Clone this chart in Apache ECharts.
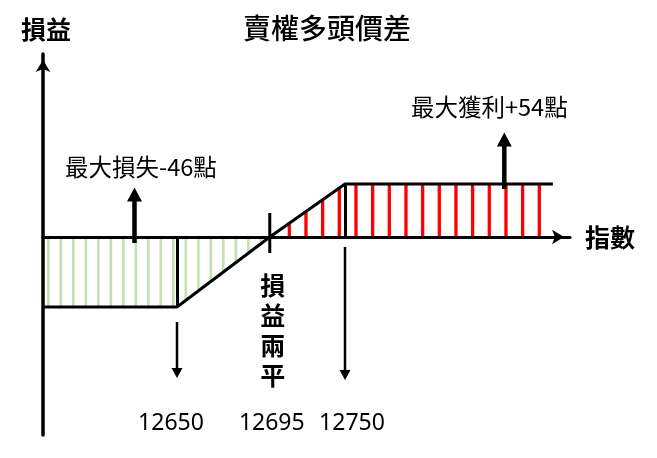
<!DOCTYPE html>
<html><head><meta charset="utf-8">
<script src="https://cdn.jsdelivr.net/npm/echarts@6/dist/echarts.min.js"></script>
<style>html,body{margin:0;padding:0;background:#fff}#c{width:657px;height:458px}</style>
</head><body><div id="c"></div>
<script>
// ---------- data ----------
const titleText = '賣權多頭價差';
const yName = '損益';
const xName = '指數';
const breakEvenName = '損益兩平';
const lossLegX = [12585, 12650, 12695];   // index values (left part of payoff)
const lossLegY = [-46, -46, 0];           // P/L points
const profitLegX = [12695, 12750, 12902]; // index values (right part of payoff)
const profitLegY = [0, 54, 54];           // P/L points
const strikeLabels = [12650, 12695, 12750];
const maxLoss = -46;
const maxProfit = 54;
const lowStrike = 12650, breakEven = 12695, highStrike = 12750;

// ---------- layout (pixels) ----------
const GL = 43, GR = 570, GT = 54, GB = 435, ZERO_Y = 237;
const LOW_PX = 177, HIGH_PX = 345, LOSS_PX = 307, PROFIT_PX = 184;
const W = GR - GL;
const k0 = (LOW_PX - GL) / (lowStrike - lossLegX[0]);
const x0min = lossLegX[0], x0max = x0min + W / k0;
const bePx = GL + (breakEven - x0min) * k0;
const k1 = (HIGH_PX - bePx) / (highStrike - breakEven);
const x1min = breakEven - (bePx - GL) / k1, x1max = x1min + W / k1;
const ky0 = (LOSS_PX - ZERO_Y) / (-maxLoss);
const y0min = -(GB - ZERO_Y) / ky0, y0max = (ZERO_Y - GT) / ky0;
const ky1 = (ZERO_Y - PROFIT_PX) / maxProfit;
const y1min = -(GB - ZERO_Y) / ky1, y1max = (ZERO_Y - GT) / ky1;

const CJK = "'Noto Sans CJK TC','Noto Sans CJK SC',sans-serif";

function stripes(color, period, phase, w) {
  const c = document.createElement('canvas');
  c.width = 100; c.height = 8;
  const g = c.getContext('2d');
  g.fillStyle = color;
  for (let x = phase - period; x < 100 + period; x += period) g.fillRect(x - w / 2, 0, w, 8);
  return c;
}
const greenPat = stripes('#c5e0b4', 12.5, 10.8, 2.7);
const redPat = stripes('#ff0000', 100 / 6, 5.97, 3.3);

const chart = echarts.init(document.getElementById('c'), null, {renderer: 'canvas'});
chart.setOption({
  animation: false,
  backgroundColor: '#fff',
  title: {
    text: titleText, left: 238, top: 9,
    textStyle: {fontSize: 28, fontWeight: 500, fontFamily: CJK, color: '#000'}
  },
  grid: {left: GL, right: 657 - GR, top: GT, bottom: 458 - GB, containLabel: false},
  xAxis: [{
    type: 'value', min: x0min, max: x0max, position: 'bottom', z: 5,
    name: xName, nameLocation: 'end', nameGap: 15,
    nameTextStyle: {fontSize: 25, fontWeight: 'bold', fontFamily: CJK, color: '#000', verticalAlign: 'middle', padding: [0, 0, 16, 0]},
    axisLine: {show: true, onZero: true, symbol: ['none', 'arrow'], symbolSize: [11, 12], symbolOffset: [0, -6],
      lineStyle: {color: '#000', width: 3}},
    axisTick: {show: false}, axisLabel: {show: false}, splitLine: {show: false}
  }, {
    type: 'value', min: x1min, max: x1max, show: false, splitLine: {show: false}
  }],
  yAxis: [{
    type: 'value', min: y0min, max: y0max, z: 5,
    name: yName, nameLocation: 'end', nameGap: 10,
    nameTextStyle: {fontSize: 25, fontWeight: 'bold', fontFamily: CJK, color: '#000', padding: [0, 0, 2, 6]},
    axisLine: {show: true, onZero: false, symbol: ['none', 'arrow'], symbolSize: [11, 12], symbolOffset: [0, -6],
      lineStyle: {color: '#000', width: 3.5}},
    axisTick: {show: false}, axisLabel: {show: false}, splitLine: {show: false}
  }, {
    type: 'value', min: y1min, max: y1max, show: false, splitLine: {show: false}
  }],
  series: [{
    name: 'loss', type: 'line', xAxisIndex: 0, yAxisIndex: 0, symbol: 'none', z: 3,
    data: lossLegX.map((x, i) => [x, lossLegY[i]]),
    lineStyle: {color: '#000', width: 3},
    areaStyle: {color: {image: greenPat, repeat: 'repeat'}, opacity: 1},
    markLine: {silent: true, symbol: 'none', label: {show: false},
      lineStyle: {color: '#000', width: 3, type: 'solid'},
      data: [[{coord: [lowStrike, maxLoss]}, {coord: [lowStrike, 0]}]]}
  }, {
    name: 'profit', type: 'line', xAxisIndex: 1, yAxisIndex: 1, symbol: 'none', z: 3,
    data: profitLegX.map((x, i) => [x, profitLegY[i]]),
    lineStyle: {color: '#000', width: 3},
    areaStyle: {color: {image: redPat, repeat: 'repeat'}, opacity: 1},
    markLine: {silent: true, symbol: 'none', label: {show: false},
      lineStyle: {color: '#000', width: 3, type: 'solid'},
      data: [[{coord: [highStrike, maxProfit]}, {coord: [highStrike, 0]}]]}
  }]
});

// ---------- annotations (x from the axes' scales) ----------
const pxLow = chart.convertToPixel({xAxisIndex: 0}, lowStrike);
const pxBE = chart.convertToPixel({xAxisIndex: 1}, breakEven);
const pxHigh = chart.convertToPixel({xAxisIndex: 1}, highStrike);
const strikePx = {};
strikePx[lowStrike] = pxLow; strikePx[breakEven] = pxBE; strikePx[highStrike] = pxHigh;
const labelOffset = {}; labelOffset[lowStrike] = -6; labelOffset[breakEven] = 2; labelOffset[highStrike] = 7;

function arrow(x, yFrom, yTip, shaftW, headW, headL) {
  const dir = yTip < yFrom ? -1 : 1;
  const baseY = yTip - dir * headL;
  return [
    {type: 'line', silent: true, z: 10, shape: {x1: x, y1: yFrom, x2: x, y2: baseY + dir}, style: {stroke: '#000', lineWidth: shaftW}},
    {type: 'polygon', silent: true, z: 10, shape: {points: [[x, yTip], [x - headW / 2, baseY], [x + headW / 2, baseY]]}, style: {fill: '#000'}}
  ];
}

const g = [];
g.push({type: 'line', silent: true, z: 10, shape: {x1: pxBE, y1: ZERO_Y - 24, x2: pxBE, y2: ZERO_Y + 16}, style: {stroke: '#000', lineWidth: 3}});
g.push(...arrow(134.5, 243, 187.5, 4.5, 15, 14));
g.push(...arrow(504.3, 189, 132.5, 4.5, 15, 14));
g.push(...arrow(pxLow, 322, 378, 2.5, 11, 10));
g.push(...arrow(pxHigh, 247, 380, 2.5, 11, 10));
g.push({type: 'text', silent: true, z: 10, x: 65, y: 167,
  style: {text: '最大損失' + maxLoss + '點', fontSize: 23.5, fontFamily: CJK, fill: '#000', align: 'left', verticalAlign: 'middle'}});
g.push({type: 'text', silent: true, z: 10, x: 411, y: 107,
  style: {text: '最大獲利+' + maxProfit + '點', fontSize: 23.5, fontFamily: CJK, fill: '#000', align: 'left', verticalAlign: 'middle'}});
g.push({type: 'text', silent: true, z: 10, x: pxBE + 3, y: 330,
  style: {text: breakEvenName.split('').join('\n'), fontSize: 25, lineHeight: 30, fontWeight: 'bold', fontFamily: CJK, fill: '#000', align: 'center', verticalAlign: 'middle'}});
strikeLabels.forEach(v => {
  g.push({type: 'text', silent: true, z: 10, x: strikePx[v] + labelOffset[v], y: 423,
    style: {text: String(v), fontSize: 23, fontFamily: "'Noto Sans',sans-serif", fill: '#000', align: 'center', verticalAlign: 'middle'}});
});
chart.setOption({graphic: g});
</script>
</body></html>
